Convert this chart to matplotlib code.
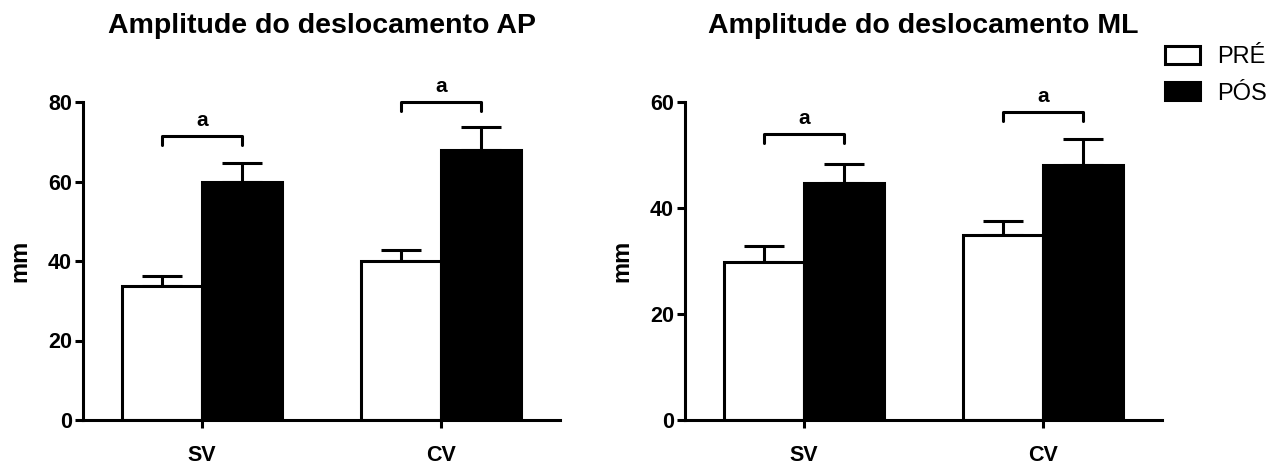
import matplotlib
matplotlib.use("Agg")
import matplotlib.pyplot as plt
import numpy as np

plt.rcParams['font.family'] = ['Liberation Sans', 'DejaVu Sans']

categories = ["SV", "CV"]
series = ["PRÉ", "PÓS"]
titles = ["Amplitude do deslocamento AP", "Amplitude do deslocamento ML"]
ylabel = "mm"

ap_pre = [33.8, 39.9]
ap_pre_err = [2.5, 2.9]
ap_pos = [59.9, 68.0]
ap_pos_err = [4.8, 5.6]

ml_pre = [29.8, 34.9]
ml_pre_err = [3.0, 2.7]
ml_pos = [44.7, 48.1]
ml_pos_err = [3.6, 4.9]

ap_yticks = [0, 20, 40, 60, 80]
ml_yticks = [0, 20, 40, 60]

# significance brackets: bracket heights
ap_brackets = [71.4, 80.0]
ml_brackets = [53.9, 58.1]
sig_label = "a"

W, H = 1271, 466
fig = plt.figure(figsize=(W / 100, H / 100), dpi=100)

LW = 2.2
bw = 0.335

def make_panel(left_px, ymax, yticks, pre, pre_err, pos, pos_err, brackets, title, bdrop, lbl_gap):
    ax = fig.add_axes([left_px / W, (H - 420) / H, 477 / W, (420 - 102) / H])
    x = np.arange(len(categories))
    b1 = ax.bar(x - bw / 2, pre, bw, color="white", edgecolor="black", linewidth=LW, zorder=2)
    b2 = ax.bar(x + bw / 2, pos, bw, color="black", edgecolor="black", linewidth=LW, zorder=2)
    ax.errorbar(x - bw / 2, pre, yerr=[np.zeros(len(pre)), pre_err], fmt="none",
                ecolor="black", elinewidth=LW, capsize=14.5, capthick=LW, zorder=1)
    ax.errorbar(x + bw / 2, pos, yerr=[np.zeros(len(pos)), pos_err], fmt="none",
                ecolor="black", elinewidth=LW, capsize=14.5, capthick=LW, zorder=1)
    for xi, by in zip(x, brackets):
        ax.plot([xi - bw / 2, xi - bw / 2, xi + bw / 2, xi + bw / 2],
                [by - bdrop, by, by, by - bdrop], color="black", lw=LW,
                clip_on=False, solid_joinstyle="round", solid_capstyle="round")
        ax.text(xi, by + lbl_gap, sig_label, ha="center", va="bottom",
                fontsize=15, fontweight="bold", clip_on=False)
    ax.set_xlim(-0.5, 1.5)
    ax.set_ylim(0, ymax)
    ax.set_yticks(yticks)
    ax.set_xticks(x)
    ax.set_xticklabels(categories)
    for s in ("top", "right"):
        ax.spines[s].set_visible(False)
    for s in ("left", "bottom"):
        ax.spines[s].set_linewidth(LW)
    ax.tick_params(axis="both", width=LW, length=6, labelsize=15.5, direction="out")
    ax.tick_params(axis="y", pad=2)
    ax.tick_params(axis="x", pad=12)
    for lab in ax.get_xticklabels() + ax.get_yticklabels():
        lab.set_fontweight("bold")
    ax.set_ylabel(ylabel, fontsize=17, fontweight="bold", labelpad=12)
    cx = (left_px + 477 / 2) / W
    fig.text(cx, (H - 33) / H, title, ha="center", va="baseline",
             fontsize=20.5, fontweight="bold")
    return ax, b1, b2

ax1, _, _ = make_panel(83, 80, ap_yticks, ap_pre, ap_pre_err, ap_pos, ap_pos_err,
                       ap_brackets, titles[0], 2.3, 1.6)
ax2, h1, h2 = make_panel(685, 60, ml_yticks, ml_pre, ml_pre_err, ml_pos, ml_pos_err,
                         ml_brackets, titles[1], 1.7, 1.2)

fig.legend([h1, h2], series, loc="upper left", bbox_to_anchor=(1165 / W, (H - 46) / H),
           frameon=False, fontsize=17, handlelength=1.5, handleheight=0.8,
           handletextpad=0.7, labelspacing=0.6, borderpad=0, borderaxespad=0)

fig.savefig("out.png", dpi=100)
